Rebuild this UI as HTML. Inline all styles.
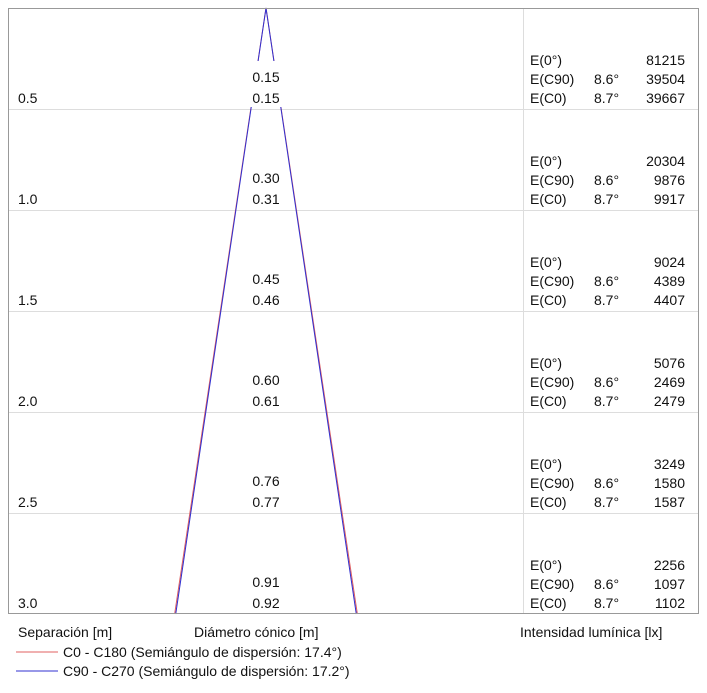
<!DOCTYPE html>
<html><head><meta charset="utf-8"><style>
body{margin:0;background:#fff;}
svg text{font-family:"Liberation Sans","DejaVu Sans",sans-serif;font-size:14px;fill:#111;}
</style></head><body>
<svg width="707" height="688" viewBox="0 0 707 688" xmlns="http://www.w3.org/2000/svg">
<g id="grid"></g>
<g id="cone"></g>
<g id="labels"></g>
<rect x="8.5" y="8.5" width="690" height="605" fill="none" stroke="#999"/>
<text x="18" y="637">Separación [m]</text>
<text x="194" y="637">Diámetro cónico [m]</text>
<text x="520" y="637">Intensidad lumínica [lx]</text>
<line x1="16" y1="652" x2="58" y2="652" stroke="#e06060"/>
<text x="63" y="657">C0 - C180 (Semiángulo de dispersión: 17.4°)</text>
<line x1="16" y1="671" x2="58" y2="671" stroke="#3030d0"/>
<text x="63" y="676">C90 - C270 (Semiángulo de dispersión: 17.2°)</text>
</svg>
<script>
const distances=[0.5,1.0,1.5,2.0,2.5,3.0];
const diamC90=["0.15","0.30","0.45","0.60","0.76","0.91"];
const diamC0=["0.15","0.31","0.46","0.61","0.77","0.92"];
const e0=[81215,20304,9024,5076,3249,2256];
const eC90=[39504,9876,4389,2469,1580,1097];
const eC0=[39667,9917,4407,2479,1587,1102];
const halfAngleC0=8.7, halfAngleC90=8.6;
const NS="http://www.w3.org/2000/svg";
const y=d=>8+d*202;
const cx=266, xs=199;
function mk(tag,attrs,parent,txt){const e=document.createElementNS(NS,tag);for(const k in attrs)e.setAttribute(k,attrs[k]);if(txt!=null)e.textContent=txt;parent.appendChild(e);return e;}
const grid=document.getElementById('grid'),cone=document.getElementById('cone'),lab=document.getElementById('labels');
const dv=mk('line',{x1:523.5,y1:8,x2:523.5,y2:613,stroke:'#ddd'},grid);


distances.forEach((d,i)=>{
 if(i<distances.length-1){const l=mk('line',{x1:8,x2:698,y1:Math.round(y(d))+0.5,y2:Math.round(y(d))+0.5,stroke:'#ddd'},grid);
 
 }
});
const dmax=3.0;
[[halfAngleC0,'#e06060','cone-c0'],[halfAngleC90,'#3030d0','cone-c90']].forEach(([a,c,n])=>{
 const h=Math.tan(a*Math.PI/180)*dmax*xs;
 const p=mk('polyline',{points:`${cx-h},${y(dmax)} ${cx},${y(0)} ${cx+h},${y(dmax)}`,fill:'none',stroke:c,'stroke-width':1},cone);
 
 
});
distances.forEach((d,i)=>{
 const yb=y(d);
 const t=mk('text',{x:18,y:yb-6},lab,d.toFixed(1));
 
 
 const bg=mk('rect',{x:246,y:yb-48,width:40,height:46,fill:'#fff'},lab);
 
 
 const a=mk('text',{x:cx,y:yb-27,'text-anchor':'middle'},lab,diamC90[i]);
 
 
 const b=mk('text',{x:cx,y:yb-6,'text-anchor':'middle'},lab,diamC0[i]);
 
 
 const rows=[['E(0°)','',e0[i]],['E(C90)',halfAngleC90.toFixed(1)+'°',eC90[i]],['E(C0)',halfAngleC0.toFixed(1)+'°',eC0[i]]];
 rows.forEach((r,j)=>{
  const yy=yb-44+j*19;
  const k=mk('text',{x:530,y:yy,'font-size':'13'},lab,r[0]);
  
  
  if(r[1]){const an=mk('text',{x:594,y:yy,'font-size':'13'},lab,r[1]);
  
  }
  const v=mk('text',{x:685,y:yy,'text-anchor':'end','font-size':'13'},lab,r[2]);
  
  
 });
});
</script>
</body></html>
